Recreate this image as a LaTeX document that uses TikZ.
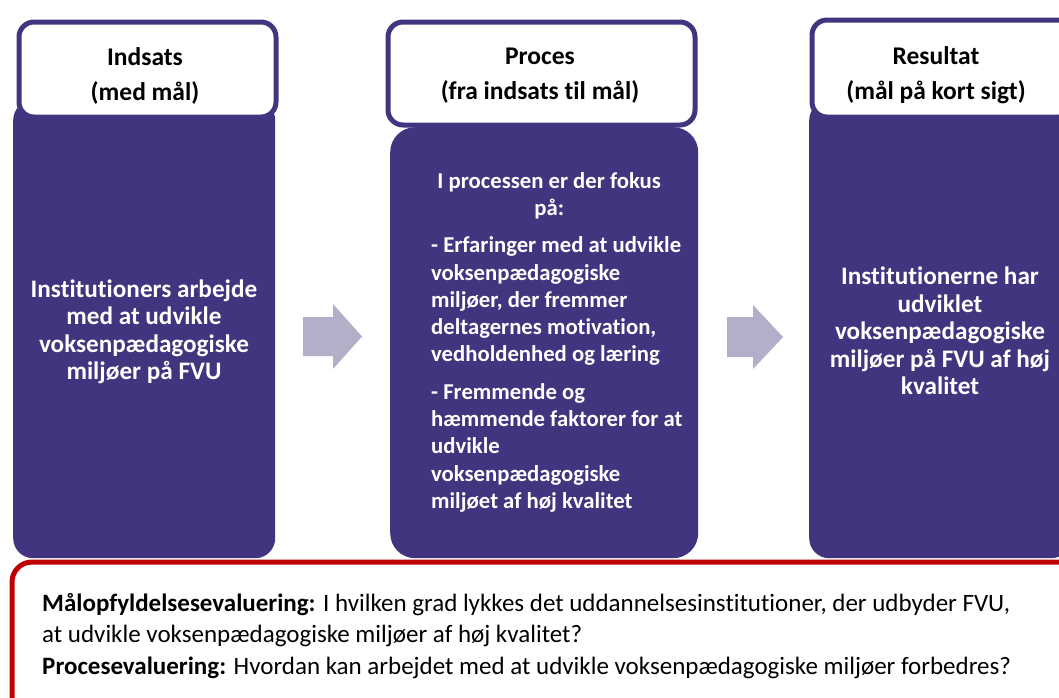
\documentclass[tikz,border=0pt]{standalone}
\usepackage{fontspec}
\setmainfont{Carlito}[Ligatures=NoCommon]
\definecolor{fvupurple}{HTML}{433480}
\definecolor{fvured}{HTML}{C00000}
\definecolor{fvuarrow}{HTML}{B2AFC8}
\tikzset{
  bodybox/.style={fill=fvupurple, draw=none, rounded corners=20pt, inner sep=0pt},
  headbox/.style={fill=white, draw=fvupurple, line width=5pt, rounded corners=15pt, inner sep=0pt},
  headtext/.style={font=\bfseries\fontsize{25.5}{35}\selectfont, align=center, text=black, inner sep=0pt},
  bodytext/.style={text=white, font=\bfseries\fontsize{25.2}{27.5}\selectfont, align=center},
  flowarrow/.style={fill=fvuarrow, draw=none},
  evalbox/.style={fill=white, draw=fvured, line width=5pt, rounded corners=20pt}
}
\newcommand{\ctrline}[1]{\makebox[236pt][c]{#1}}
\begin{document}
\begin{tikzpicture}[x=1pt,y=-1pt]
\useasboundingbox (0,0) rectangle (1059,697);
% bodies
\node[bodybox, minimum width=262pt, minimum height=458pt, anchor=north west] (b1) at (13,100) {};
\node[bodybox, minimum width=308pt, minimum height=431pt, anchor=north west, rounded corners=25pt] (b2) at (390,127) {};
\node[bodybox, minimum width=262pt, minimum height=458pt, anchor=north west] (b3) at (809,100) {};
% headers
\node[headbox, minimum width=257pt, minimum height=95pt, anchor=north west] (h1) at (16.5,19.5) {};
\node[headbox, minimum width=307pt, minimum height=103pt, anchor=north west] (h2) at (385.5,19.5) {};
\node[headbox, minimum width=262pt, minimum height=97pt, anchor=north west] (h3) at (809.5,17.5) {};
\node[headtext] (ht1) at (145,76) {Indsats\\(med mål)};
\node[headtext] (ht2) at (540,76) {Proces\\(fra indsats til mål)};
\node[headtext] (ht3) at (936,75) {Resultat\\(mål på kort sigt)};
% body texts
\node[bodytext] (t1) at (144,332) {Institutioners arbejde\\med at udvikle\\voksenpædagogiske\\miljøer på FVU};
\node[bodytext] (t3) at (940,331) {Institutionerne har\\udviklet\\voksenpædagogiske\\miljøer på FVU af høj\\kvalitet};
\node[text=white, font=\bfseries\fontsize{22.7}{27.3}\selectfont, inner sep=0pt, anchor=north west, align=left] (t2) at (431,172) {%
\ctrline{I processen er der fokus}\\\ctrline{på:}\\[10pt]
- Erfaringer med at udvikle\\voksenpædagogiske\\miljøer, der fremmer\\deltagernes motivation,\\vedholdenhed og læring\\[10pt]
- Fremmende og\\hæmmende faktorer for at\\udvikle\\voksenpædagogiske\\miljøet af høj kvalitet};
% arrows
\fill[flowarrow] (303,317) -- (333,317) -- (333,304) -- (362,336.5) -- (333,369) -- (333,356) -- (303,356) -- cycle;
\fill[flowarrow] (727,317) -- (753,317) -- (753,305) -- (783,337) -- (753,369) -- (753,357) -- (727,357) -- cycle;
% evaluation box
\node[evalbox, minimum width=1070pt, minimum height=160pt, anchor=north west] (ev) at (9.5,559.5) {};
\node[anchor=north west, inner sep=0pt, align=left, font=\fontsize{25}{31.5}\selectfont, text=black] (evt) at (42,593) {%
\textbf{Målopfyldelsesevaluering:} I hvilken grad lykkes det uddannelsesinstitutioner, der udbyder FVU,\\
at udvikle voksenpædagogiske miljøer af høj kvalitet?\\
\textbf{Procesevaluering:} Hvordan kan arbejdet med at udvikle voksenpædagogiske miljøer forbedres?};
\end{tikzpicture}
\end{document}
